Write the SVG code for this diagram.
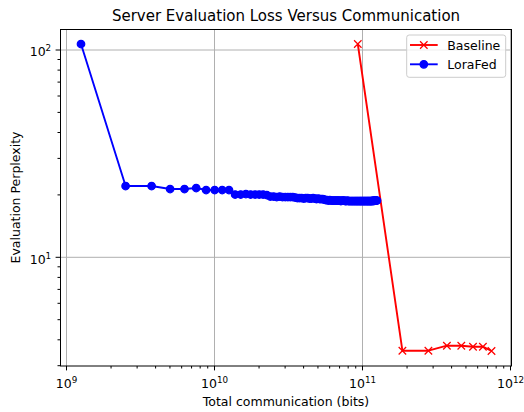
<svg xmlns="http://www.w3.org/2000/svg" width="524" height="412" viewBox="0 0 524 412">
<style>
text{font-family:"DejaVu Sans","Liberation Sans",sans-serif;fill:#000}
.tl{font-size:12.5px}
.sup{font-size:8.75px}
.grid line{stroke:#b0b0b0;stroke-width:1}
.tick line{stroke:#000;stroke-width:1}
.red{fill:none;stroke:#ff0000;stroke-width:1.9;stroke-linejoin:round}
.blue{fill:none;stroke:#0000ff;stroke-width:1.9;stroke-linejoin:round}
</style>
<defs>
<marker id="dot" markerUnits="userSpaceOnUse" markerWidth="12" markerHeight="12" viewBox="-6 -6 12 12" refX="0" refY="0" overflow="visible">
<circle r="3.75" fill="#0000ff" stroke="#0000ff" stroke-width="1.25"/>
</marker>
<marker id="xm" markerUnits="userSpaceOnUse" markerWidth="12" markerHeight="12" viewBox="-6 -6 12 12" refX="0" refY="0" overflow="visible">
<path d="M-3.75,-3.75L3.75,3.75M-3.75,3.75L3.75,-3.75" stroke="#ff0000" stroke-width="1.25" fill="none"/>
</marker>
</defs>
<rect x="0" y="0" width="524" height="412" fill="#fff"/>
<text id="title" x="286" y="20.7" text-anchor="middle" font-size="15">Server Evaluation Loss Versus Communication</text>
<g id="grid" class="grid">
<line x1="66.5" y1="29" x2="66.5" y2="366"/>
<line x1="214.5" y1="29" x2="214.5" y2="366"/>
<line x1="362.5" y1="29" x2="362.5" y2="366"/>
<line x1="510.5" y1="29" x2="510.5" y2="366"/>
<line x1="60" y1="50" x2="512" y2="50"/>
<line x1="60" y1="257.3" x2="512" y2="257.3"/>
</g>
<g id="connectors">
<g id="series-baseline">
<polyline class="red" marker-start="url(#xm)" marker-mid="url(#xm)" marker-end="url(#xm)" points="357.8,44 402.4,350.7 428.4,350.7 446.9,345.7 461.3,345.7 473,346.7 482.9,346.7 491.5,351"/>
</g>
<g id="series-lorafed">
<polyline class="blue" marker-start="url(#dot)" marker-mid="url(#dot)" marker-end="url(#dot)" points="81,44 125.6,186 151.6,186 170.1,189 184.5,189 196.2,188 206.1,190 214.7,190 222.2,190 229,190 235.1,194.5 240.7,194.5 245.9,194 250.6,194.5 255.1,194.5 259.2,194.5 263.1,194.5 266.8,195 270.3,196.5 273.6,196.5 276.7,197 279.7,196.5 282.5,197 285.3,197 287.9,197 290.4,197 292.8,197 295.2,197.5 297.4,198 299.6,198 301.7,198 303.8,198.5 305.7,198 307.7,198 309.5,198.5 311.3,198.5 313.1,198 314.8,198.5 316.5,199 318.1,198.5 319.7,199 321.2,199 322.8,199 324.2,199.5 325.7,200 327.1,200 328.5,200.5 329.8,200 331.1,200.5 332.5,200.5 333.7,200.5 335,200.5 336.2,200.5 337.4,200.5 338.6,200.5 339.7,200.5 340.9,201 342,200.5 343.1,200.5 344.2,200.5 345.2,201 346.3,201 347.3,200.5 348.3,201 349.3,201 350.3,201 351.3,201 352.2,201 353.1,201 354.1,201 355,201 355.9,201 356.8,201 357.6,201 358.5,201 359.4,201 360.2,201 361,201 361.8,201 362.7,201 363.5,201 364.2,201 365,201 365.8,201 366.6,201 367.3,201 368,201 368.8,201 369.5,201 370.2,201 370.9,201 371.6,201 372.3,201 373,200.5 373.7,201 374.4,200.5 375,200.5 375.7,200.5 376.3,200.5 377,200.5"/>
</g>
</g>
<g id="ticks" class="tick">
<line x1="66.5" y1="366" x2="66.5" y2="370.4"/>
<line x1="214.5" y1="366" x2="214.5" y2="370.4"/>
<line x1="362.5" y1="366" x2="362.5" y2="370.4"/>
<line x1="510.5" y1="366" x2="510.5" y2="370.4"/>
<g id="xminor">
<line x1="111.05" y1="366" x2="111.05" y2="368.5"/><line x1="137.11" y1="366" x2="137.11" y2="368.5"/><line x1="155.6" y1="366" x2="155.6" y2="368.5"/><line x1="169.95" y1="366" x2="169.95" y2="368.5"/><line x1="181.67" y1="366" x2="181.67" y2="368.5"/><line x1="191.57" y1="366" x2="191.57" y2="368.5"/><line x1="200.16" y1="366" x2="200.16" y2="368.5"/><line x1="207.73" y1="366" x2="207.73" y2="368.5"/>
<line x1="259.05" y1="366" x2="259.05" y2="368.5"/><line x1="285.11" y1="366" x2="285.11" y2="368.5"/><line x1="303.6" y1="366" x2="303.6" y2="368.5"/><line x1="317.95" y1="366" x2="317.95" y2="368.5"/><line x1="329.67" y1="366" x2="329.67" y2="368.5"/><line x1="339.57" y1="366" x2="339.57" y2="368.5"/><line x1="348.16" y1="366" x2="348.16" y2="368.5"/><line x1="355.73" y1="366" x2="355.73" y2="368.5"/>
<line x1="407.05" y1="366" x2="407.05" y2="368.5"/><line x1="433.11" y1="366" x2="433.11" y2="368.5"/><line x1="451.6" y1="366" x2="451.6" y2="368.5"/><line x1="465.95" y1="366" x2="465.95" y2="368.5"/><line x1="477.67" y1="366" x2="477.67" y2="368.5"/><line x1="487.57" y1="366" x2="487.57" y2="368.5"/><line x1="496.16" y1="366" x2="496.16" y2="368.5"/><line x1="503.73" y1="366" x2="503.73" y2="368.5"/>
</g>
<line x1="55.6" y1="50" x2="60" y2="50"/>
<line x1="55.6" y1="257.3" x2="60" y2="257.3"/>
<g id="yminor">
<line x1="57.5" y1="194.9" x2="60" y2="194.9"/><line x1="57.5" y1="158.4" x2="60" y2="158.4"/><line x1="57.5" y1="132.5" x2="60" y2="132.5"/><line x1="57.5" y1="112.4" x2="60" y2="112.4"/><line x1="57.5" y1="96" x2="60" y2="96"/><line x1="57.5" y1="82.1" x2="60" y2="82.1"/><line x1="57.5" y1="70.1" x2="60" y2="70.1"/><line x1="57.5" y1="59.5" x2="60" y2="59.5"/>
<line x1="57.5" y1="266.8" x2="60" y2="266.8"/><line x1="57.5" y1="277.4" x2="60" y2="277.4"/><line x1="57.5" y1="289.4" x2="60" y2="289.4"/><line x1="57.5" y1="303.3" x2="60" y2="303.3"/><line x1="57.5" y1="319.7" x2="60" y2="319.7"/><line x1="57.5" y1="339.8" x2="60" y2="339.8"/><line x1="57.5" y1="365.7" x2="60" y2="365.7"/>
</g>
</g>
<g id="axes-frame">
<rect x="60.5" y="29.5" width="451" height="336.5" fill="none" stroke="#000" stroke-width="1"/>
</g>
<g id="tick-labels" class="tl">
<text x="66.5" y="388.4" text-anchor="middle">10<tspan class="sup" dy="-5">9</tspan></text>
<text x="214.5" y="388.4" text-anchor="middle">10<tspan class="sup" dy="-5">10</tspan></text>
<text x="362.5" y="388.4" text-anchor="middle">10<tspan class="sup" dy="-5">11</tspan></text>
<text x="510.5" y="388.4" text-anchor="middle">10<tspan class="sup" dy="-5">12</tspan></text>
<text x="51.2" y="56.3" text-anchor="end">10<tspan class="sup" dy="-5">2</tspan></text>
<text x="51.2" y="263.5" text-anchor="end">10<tspan class="sup" dy="-5">1</tspan></text>
</g>
<text id="xlabel" class="tl" x="286" y="406" text-anchor="middle">Total communication (bits)</text>
<text id="ylabel" class="tl" transform="translate(20.3,197.5) rotate(-90)" text-anchor="middle">Evaluation Perplexity</text>
<g id="legend">
<rect x="406.7" y="35" width="99" height="42.3" rx="2.5" fill="#fff" fill-opacity="0.8" stroke="#cccccc" stroke-width="1"/>
<g id="legend-baseline">
<line x1="410" y1="45" x2="437.7" y2="45" stroke="#ff0000" stroke-width="1.9"/>
<path d="M420.05,41.25L427.55,48.75M420.05,48.75L427.55,41.25" stroke="#ff0000" stroke-width="1.25"/>
<text class="tl" x="447.3" y="49.5">Baseline</text>
</g>
<g id="legend-lorafed">
<line x1="410" y1="64.3" x2="437.7" y2="64.3" stroke="#0000ff" stroke-width="1.9"/>
<circle cx="423.8" cy="64.3" r="3.75" fill="#0000ff" stroke="#0000ff" stroke-width="1.25"/>
<text class="tl" x="447.3" y="68.8">LoraFed</text>
</g>
</g>
</svg>
